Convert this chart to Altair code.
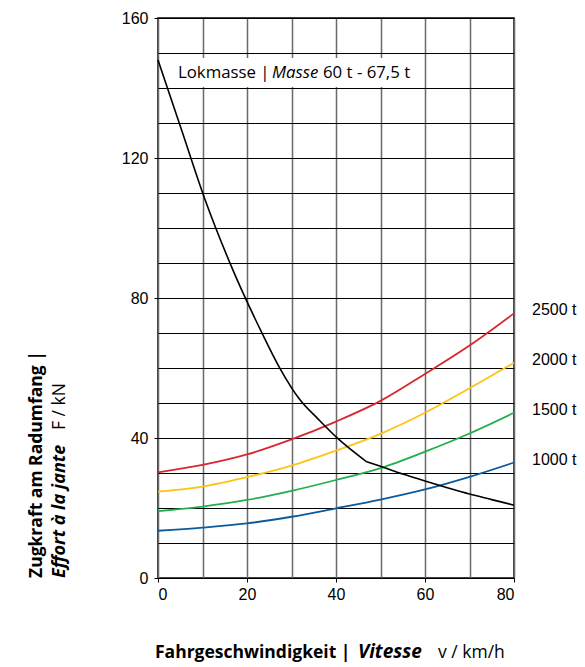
import altair as alt
import pandas as pd

# ---------------- data ----------------
speed = [0, 10, 20, 30, 40, 50, 60, 70, 80]
f_1000 = [13.5, 14.4, 15.6, 17.5, 19.9, 22.4, 25.3, 28.9, 33.0]
f_1500 = [19.1, 20.4, 22.3, 24.9, 28.0, 31.4, 36.1, 41.3, 47.2]
f_2000 = [24.7, 26.1, 28.8, 32.1, 36.4, 41.2, 47.2, 54.2, 61.5]
f_2500 = [30.2, 32.3, 35.3, 39.6, 44.7, 50.6, 58.3, 66.4, 75.6]
series_names = ["1000 t", "1500 t", "2000 t", "2500 t"]
series_colors = ["#0a5a9c", "#22ad4f", "#fcc414", "#d8282f"]

# locomotive adhesion limit: steep part (up to the kink) and flat part
loco_v_1 = [0, 5.3, 10.6, 16.2, 23.4, 27.4, 31.9, 36, 40.2, 46.9]
loco_f_1 = [148, 128, 108, 89.9, 69.9, 59.9, 50.9, 45.4, 40.1, 33.2]
loco_v_2 = [46.9, 50, 55, 60, 65, 70, 75, 80]
loco_f_2 = [33.2, 31.9, 29.7, 27.7, 25.8, 24.0, 22.4, 20.8]

x_ticks = list(range(0, 81, 10))
y_ticks = list(range(0, 161, 10))

mass_label = ["Lokmasse |", "Masse", "60 t - 67,5 t"]
x_title = ["Fahrgeschwindigkeit |", "Vitesse", "v / km/h"]
y_title = ["Zugkraft am Radumfang |", "Effort à la jante", "F / kN"]

# ---------------- tables ----------------
rows = []
for name, vals in zip(series_names, [f_1000, f_1500, f_2000, f_2500]):
    for v, f in zip(speed, vals):
        rows.append({"v": v, "F": f, "serie": name})
train_df = pd.DataFrame(rows)
end_df = train_df[train_df["v"] == speed[-1]]
loco_df = pd.concat([
    pd.DataFrame({"v": loco_v_1, "F": loco_f_1, "seg": "a"}),
    pd.DataFrame({"v": loco_v_2, "F": loco_f_2, "seg": "b"}),
])

W, H = 356, 560
TEXT_FONT = "Open Sans"
NUM_FONT = "Liberation Sans"

x_scale = alt.Scale(domain=[0, 80], nice=False)
y_scale = alt.Scale(domain=[0, 160], nice=False)

x_axis = alt.Axis(
    values=x_ticks, grid=True, gridColor="#6a6a6a", gridWidth=1.5,
    labelExpr="datum.value % 20 == 0 ? datum.label : ''",
    tickOpacity={"condition": {"test": "datum.value % 20 == 0", "value": 1}, "value": 0},
    tickSize=4, tickColor="black", domain=False, title=None,
    labelFont=NUM_FONT, labelFontSize=16, labelColor="black", labelPadding=4,
)
y_axis = alt.Axis(
    values=y_ticks, grid=True, gridColor="black", gridWidth=1.1,
    labelExpr="datum.value % 40 == 0 ? datum.label : ''",
    tickOpacity={"condition": {"test": "datum.value % 40 == 0", "value": 1}, "value": 0},
    tickSize=4, tickColor="black", domain=False, title=None,
    labelFont=NUM_FONT, labelFontSize=16, labelColor="black", labelPadding=6,
)

X = alt.X("v:Q", scale=x_scale, axis=x_axis)
Y = alt.Y("F:Q", scale=y_scale, axis=y_axis)

color_scale = alt.Scale(domain=series_names, range=series_colors)

train_lines = alt.Chart(train_df).mark_line(strokeWidth=1.8, interpolate="monotone").encode(
    x=X, y=Y,
    color=alt.Color("serie:N", scale=color_scale, legend=None),
)

loco_line = alt.Chart(loco_df).mark_line(strokeWidth=1.6, color="black", interpolate="monotone").encode(
    x=X, y=Y, detail="seg:N",
)

end_labels = alt.Chart(end_df).mark_text(
    align="left", baseline="middle", dx=18, dy=-3, font=NUM_FONT, fontSize=16, color="black"
).encode(
    x=X, y=Y, text="serie:N",
)


def ann(text, x, y, **kw):
    return alt.Chart(pd.DataFrame({"t": [text]})).mark_text(color="black", **kw).encode(
        x=alt.value(x), y=alt.value(y), text="t:N"
    )


box = alt.Chart(pd.DataFrame({"a": [0]})).mark_rect(color="white").encode(
    x=alt.value(17), x2=alt.value(260), y=alt.value(40), y2=alt.value(69)
)

MS = 16.8
mass_parts = [
    ann(mass_label[0], 20, 59.5, align="left", baseline="alphabetic", font=TEXT_FONT, fontSize=MS),
    ann(mass_label[1], 114, 59.5, align="left", baseline="alphabetic", font=TEXT_FONT, fontSize=MS, fontStyle="italic"),
    ann(mass_label[2], 165, 59.5, align="left", baseline="alphabetic", font=TEXT_FONT, fontSize=MS),
]

TS = 17.5
xt_parts = [
    ann(x_title[0], -3, 640, align="left", baseline="alphabetic", font=TEXT_FONT, fontSize=TS, fontWeight="bold"),
    ann(x_title[1], 200, 640, align="left", baseline="alphabetic", font=TEXT_FONT, fontSize=19, fontWeight="bold", fontStyle="italic"),
    ann(x_title[2], 280, 640, align="left", baseline="alphabetic", font=TEXT_FONT, fontSize=TS),
]

yt_parts = [
    ann(y_title[0], -116, 560, align="left", baseline="alphabetic", angle=270, font=TEXT_FONT, fontSize=TS, fontWeight="bold"),
    ann(y_title[1], -93, 560, align="left", baseline="alphabetic", angle=270, font=TEXT_FONT, fontSize=18, fontWeight="bold", fontStyle="italic"),
    ann(y_title[2], -93, 412, align="left", baseline="alphabetic", angle=270, font=TEXT_FONT, fontSize=TS),
]

chart = alt.layer(
    train_lines, loco_line, end_labels, box, *mass_parts, *xt_parts, *yt_parts
).properties(
    width=W, height=H,
    autosize=alt.AutoSizeParams(type="none"),
    padding={"left": 158, "top": 18, "right": 71, "bottom": 89},
    background="white",
).configure_view(
    stroke="black", strokeWidth=1.5
)

chart.save("out.html", embed_options={"renderer": "svg", "actions": False})
